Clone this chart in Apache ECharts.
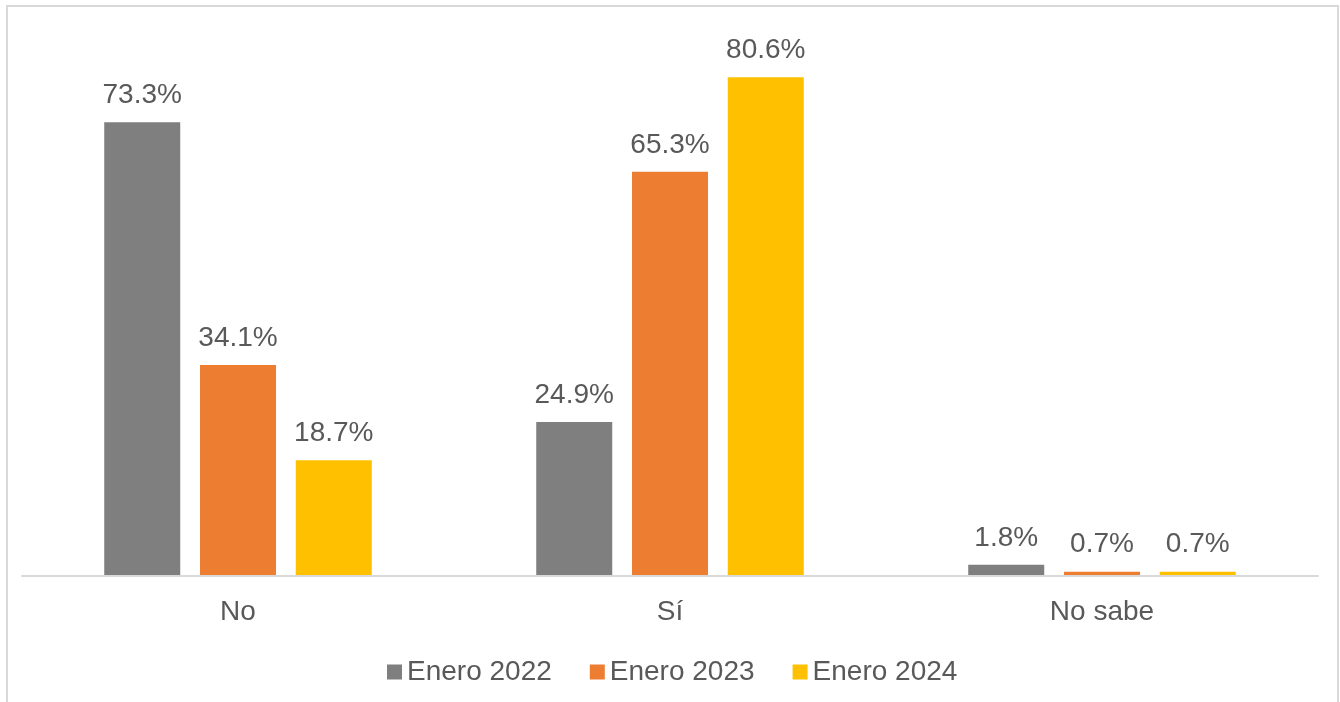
<!DOCTYPE html>
<html>
<head>
<meta charset="utf-8">
<script src="https://cdn.jsdelivr.net/npm/echarts@6/dist/echarts.min.js"></script>
<style>
html,body{margin:0;padding:0;background:#fff;}
#c{width:1340px;height:702px;}
</style>
</head>
<body>
<div id="c"></div>
<script>
const categories = ['No', 'Sí', 'No sabe'];
const seriesNames = ['Enero 2022', 'Enero 2023', 'Enero 2024'];
const enero2022 = [73.3, 24.9, 1.8];
const enero2023 = [34.1, 65.3, 0.7];
const enero2024 = [18.7, 80.6, 0.7];
const colors = ['#7f7f7f', '#ed7d31', '#ffc000'];

const textColor = '#595959';
const font = 'Liberation Sans, Arial, sans-serif';
const seriesData = [enero2022, enero2023, enero2024];

const chart = echarts.init(document.getElementById('c'), null, {renderer: 'canvas'});
chart.setOption({
  animation: false,
  backgroundColor: '#ffffff',
  color: colors,
  graphic: [{
    type: 'rect',
    shape: {x: 7, y: 6, width: 1331, height: 720},
    style: {fill: 'none', stroke: '#d9d9d9', lineWidth: 2},
    silent: true, z: -10
  }],
  grid: {left: 22, right: 22, top: 19, bottom: 126, containLabel: false},
  legend: {
    data: seriesNames,
    bottom: 11,
    left: 382,
    itemWidth: 15,
    itemHeight: 15,
    itemGap: 38,
    icon: 'rect',
    textStyle: {color: textColor, fontSize: 28, fontFamily: font, padding: [0, 0, 0, 0]}
  },
  xAxis: {
    type: 'category',
    data: categories,
    z: 3,
    axisLine: {show: true, lineStyle: {color: '#d9d9d9', width: 2}},
    axisTick: {show: false},
    axisLabel: {color: textColor, fontSize: 28, fontFamily: font, margin: 22}
  },
  yAxis: {
    type: 'value',
    min: 0, max: 90, interval: 10,
    show: false,
    splitLine: {show: false}
  },
  series: seriesData.map((d, i) => ({
    name: seriesNames[i],
    type: 'bar',
    data: d,
    barWidth: 76,
    barGap: '26%',
    itemStyle: {color: colors[i]},
    label: {
      show: true,
      position: 'top',
      distance: 13,
      color: textColor,
      fontSize: 28,
      fontFamily: font,
      formatter: p => p.value.toFixed(1) + '%'
    }
  }))
});
</script>
</body>
</html>
